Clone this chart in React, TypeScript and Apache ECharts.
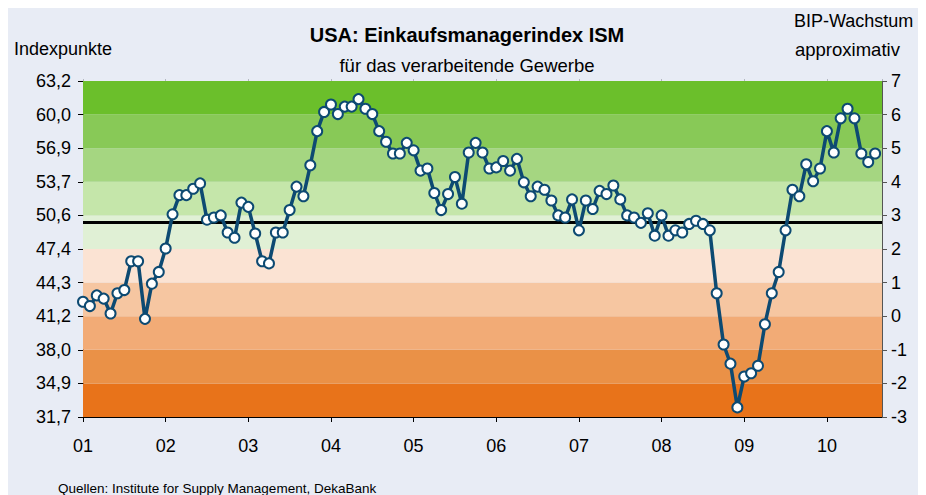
import React, { useEffect, useRef } from 'react';
import * as echarts from 'echarts';

// ISM manufacturing index, monthly, Jan 2001 – Aug 2010
const ism2001 = [42.5, 42.1, 43.1, 42.8, 41.4, 43.3, 43.6, 46.3, 46.3, 40.9, 44.2, 45.3];
const ism2002 = [47.5, 50.7, 52.5, 52.5, 53.1, 53.6, 50.2, 50.4, 50.6, 49.0, 48.5, 51.8];
const ism2003 = [51.4, 48.9, 46.3, 46.1, 49.0, 49.0, 51.1, 53.3, 52.4, 55.3, 58.5, 60.3];
const ism2004 = [61.0, 60.1, 60.8, 60.8, 61.5, 60.6, 60.1, 58.5, 57.5, 56.4, 56.4, 57.4];
const ism2005 = [56.7, 54.8, 55.0, 52.7, 51.1, 52.6, 54.2, 51.7, 56.5, 57.4, 56.5, 55.0];
const ism2006 = [55.1, 55.7, 54.8, 55.9, 53.7, 52.4, 53.3, 53.0, 52.0, 50.6, 50.4, 52.1];
const ism2007 = [49.2, 52.0, 51.2, 52.9, 52.6, 53.4, 52.1, 50.6, 50.4, 49.9, 50.8, 48.7];
const ism2008 = [50.6, 48.7, 49.2, 49.0, 49.8, 50.1, 49.8, 49.2, 43.3, 38.5, 36.7, 32.6];
const ism2009 = [35.5, 35.8, 36.5, 40.4, 43.3, 45.3, 49.2, 53.0, 52.4, 55.4, 53.8, 55.0];
const ism2010 = [58.5, 56.5, 59.7, 60.6, 59.7, 56.4, 55.6, 56.4];

const ismValues = [
  ...ism2001, ...ism2002, ...ism2003, ...ism2004, ...ism2005,
  ...ism2006, ...ism2007, ...ism2008, ...ism2009, ...ism2010,
];

const yearLabels = ['01', '02', '03', '04', '05', '06', '07', '08', '09', '10'];
const leftTickLabels = ['31,7', '34,9', '38,0', '41,2', '44,3', '47,4', '50,6', '53,7', '56,9', '60,0', '63,2'];
const gdpMin = -3;
const gdpMax = 7;
const indexMin = 31.7;
const indexMax = 63.2;
const thresholdLevel = 50;

// band colours from bottom (-3..-2) to top (6..7)
const bandColors = [
  '#e8731a', '#ea9147', '#f2ab76', '#f6c6a1', '#fbe3d3',
  '#e0f0d5', '#c5e6aa', '#a5d681', '#88c957', '#6bbf2b',
];

const FONT = '"Liberation Sans", Arial, Helvetica, sans-serif';

export default function App() {
  const ref = useRef<HTMLDivElement>(null);

  useEffect(() => {
    if (!ref.current) return;
    const chart = echarts.init(ref.current, null, { renderer: 'svg' });

    const step = (indexMax - indexMin) / (gdpMax - gdpMin);
    const bands = bandColors.map((c, k) => [
      { yAxis: indexMin + k * step, itemStyle: { color: c } },
      { yAxis: indexMin + (k + 1) * step },
    ]);

    const monthsMax = 116;

    chart.setOption({
      animation: false,
      backgroundColor: '#e8ecf5',
      textStyle: { fontFamily: FONT },
      grid: { left: 75, top: 73, width: 799, height: 336, containLabel: false },
      xAxis: [
        {
          type: 'value',
          min: 0,
          max: monthsMax,
          interval: 12,
          position: 'bottom',
          axisLine: { show: true, onZero: false, lineStyle: { color: '#000', width: 1 } },
          axisTick: { show: true, length: 5, inside: false, lineStyle: { color: '#000' } },
          splitLine: { show: false },
          axisLabel: {
            margin: 20,
            fontSize: 18,
            color: '#000',
            fontFamily: FONT,
            showMaxLabel: false,
            formatter: (v: number) => (v % 12 === 0 ? yearLabels[v / 12] ?? '' : ''),
          },
        },
        {
          type: 'value',
          min: 0,
          max: monthsMax,
          interval: 12,
          position: 'top',
          axisLine: { show: true, onZero: false, lineStyle: { color: '#b4b8c0', width: 1 } },
          axisTick: { show: true, length: 2, lineStyle: { color: '#b4b8c0' } },
          splitLine: { show: false },
          axisLabel: { show: false },
        },
      ],
      yAxis: [
        {
          type: 'value',
          min: indexMin,
          max: indexMax,
          interval: step,
          position: 'left',
          axisLine: { show: true, onZero: false, lineStyle: { color: '#000', width: 1 } },
          axisTick: { show: true, length: 5, lineStyle: { color: '#000' } },
          splitLine: { show: false },
          axisLabel: {
            margin: 12,
            fontSize: 18,
            color: '#000',
            fontFamily: FONT,
            formatter: (v: number) => leftTickLabels[Math.round((v - indexMin) / step)] ?? '',
          },
        },
        {
          type: 'value',
          min: gdpMin,
          max: gdpMax,
          interval: 1,
          position: 'right',
          axisLine: { show: true, onZero: false, lineStyle: { color: '#555', width: 1 } },
          axisTick: { show: true, length: 5, lineStyle: { color: '#555' } },
          splitLine: { show: false },
          axisLabel: { margin: 9, fontSize: 18, color: '#000', fontFamily: FONT },
        },
      ],
      series: [
        {
          type: 'line',
          xAxisIndex: 0,
          yAxisIndex: 0,
          z: 3,
          data: ismValues.map((v, i) => [i, v]),
          lineStyle: { color: '#0d4a72', width: 3.5 },
          itemStyle: { color: '#ffffff', borderColor: '#0d4a72', borderWidth: 2 },
          symbol: 'circle',
          symbolSize: 10,
          showAllSymbol: true,
          markArea: { silent: true, z: 1, data: bands },
          markLine: {
            silent: true,
            z: 2,
            symbol: ['none', 'none'],
            label: { show: false },
            lineStyle: { color: '#000', width: 3, type: 'solid' },
            data: [{ yAxis: thresholdLevel }],
          },
        },
      ],
      graphic: [
        {
          type: 'text',
          left: 'center',
          top: 17,
          style: { text: 'USA: Einkaufsmanagerindex ISM', font: `bold 20px ${FONT}`, fill: '#000' },
        },
        {
          type: 'text',
          left: 'center',
          top: 48,
          style: { text: 'für das verarbeitende Gewerbe', font: `18.5px ${FONT}`, fill: '#000' },
        },
        {
          type: 'text',
          left: 6,
          top: 32,
          style: { text: 'Indexpunkte', font: `18px ${FONT}`, fill: '#000' },
        },
        {
          type: 'text',
          left: 786,
          top: 4,
          style: { text: 'BIP-Wachstum', font: `18px ${FONT}`, fill: '#000' },
        },
        {
          type: 'text',
          left: 787,
          top: 32,
          style: { text: 'approximativ', font: `18.5px ${FONT}`, fill: '#000' },
        },
        {
          type: 'text',
          left: 50,
          top: 473,
          style: { text: 'Quellen: Institute for Supply Management, DekaBank', font: `13.5px ${FONT}`, fill: '#000' },
        },
      ],
    });

    return () => chart.dispose();
  }, []);

  return <div ref={ref} style={{ width: 918, height: 487 }} />;
}
